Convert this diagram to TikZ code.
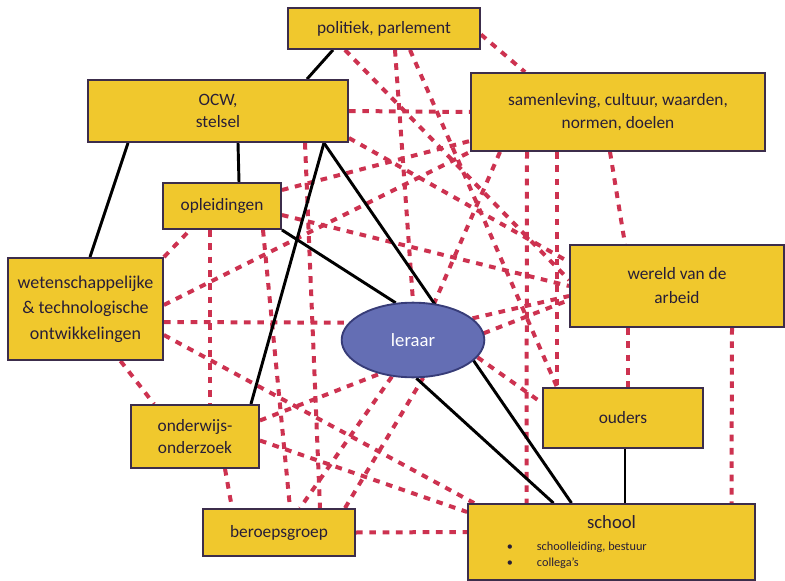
\documentclass[tikz,border=0pt]{standalone}
\usepackage{fontspec}
\setmainfont{Carlito}
\usetikzlibrary{calc,backgrounds,shapes.geometric}
\definecolor{boxfill}{RGB}{240,200,45}
\definecolor{boxline}{RGB}{60,45,75}
\definecolor{webred}{RGB}{205,50,80}
\definecolor{ovalfill}{RGB}{100,110,180}
\definecolor{ovalline}{RGB}{55,60,120}
\definecolor{inktxt}{RGB}{40,30,55}

\begin{document}
\begin{tikzpicture}[x=0.75pt,y=-0.75pt,
  box/.style={draw=boxline, fill=boxfill, line width=1.4pt, text=inktxt, align=center, inner sep=2pt, font=\fontsize{13}{17}\selectfont},
  link/.style={line width=2.2pt, black},
  web/.style={webred, line width=3pt, dash pattern=on 5pt off 5pt}]
\useasboundingbox (0,0) rectangle (785,581);
% boxes
\node[box, minimum width=144pt, minimum height=30.75pt] (pol) at (384,28.5) {politiek, parlement};
\node[box, minimum width=195pt, minimum height=46.5pt] (ocw) at (218,111) {OCW,\\stelsel};
\node[box, minimum width=220.5pt, minimum height=58.5pt] (sam) at (618,112) {samenleving, cultuur, waarden,\\normen, doelen};
\node[box, minimum width=88.5pt, minimum height=34.5pt] (opl) at (222,206) {opleidingen};
\node[box, minimum width=116.25pt, minimum height=76.5pt, font=\fontsize{13.5}{19}\selectfont] (wet) at (85.5,309) {wetenschappelijke\\\& technologische\\ontwikkelingen};
\node[box, minimum width=160.5pt, minimum height=61.5pt, font=\fontsize{13}{18}\selectfont] (wer) at (677,286) {wereld van de\\arbeid};
\node[draw=ovalline, fill=ovalfill, ellipse, line width=1.4pt, minimum width=107pt, minimum height=56pt, text=white, font=\fontsize{14}{17}\selectfont] (ler) at (413,340) {leraar};
\node[box, minimum width=96pt, minimum height=47.25pt] (ond) at (195,436.5) {onderwijs-\\onderzoek};
\node[box, minimum width=120pt, minimum height=45pt] (oud) at (623,418) {ouders};
\node[box, minimum width=114pt, minimum height=35.25pt] (ber) at (279,532.5) {beroepsgroep};
\node[box, minimum width=215.25pt, minimum height=57pt, font=\fontsize{9.2}{12.5}\selectfont] (sch) at (611.5,542) {{\fontsize{14}{17}\selectfont school}\\[4pt]
  \makebox[157pt][l]{\textbullet\hspace{18pt}schoolleiding, bestuur}\\
  \makebox[157pt][l]{\textbullet\hspace{18pt}collega's}};

\begin{scope}[on background layer]
% red web
\draw[web] ($(pol.east)+(0,6)$) -- ($(sam.north)+(-93,0)$);
\draw[web] ($(pol.south)+(-39,0)$) -- ($(wer.west)+(0,-6)$);
\draw[web] ($(pol.south)+(11,0)$) -- (ler.north);
\draw[web] ($(pol.south)+(26,0)$) -- ($(oud.north)+(-66,0)$);
\draw[web] (ocw.east) -- (sam.west);
\draw[web] ($(ocw.east)+(0,27)$) -- ($(wer.west)+(0,-24)$);
\draw[web] ($(ocw.south)+(87,0)$) -- ($(ber.north)+(41,0)$);
\draw[web] ($(opl.east)+(0,-16)$) -- ($(sam.south west)+(0,-11)$);
\draw[web] ($(opl.east)+(0,9)$) -- (wer.west);
\draw[web] ($(opl.south)+(-12,0)$) -- ($(ond.north)+(15,0)$);
\draw[web] ($(opl.south)+(41,0)$) -- ($(ber.north)+(11,0)$);
\draw[web] (wet.north east) -- ($(opl.south)+(-32,0)$);
\draw[web] ($(wet.east)+(0,-4)$) -- (sam.south west);
\draw[web] ($(wet.east)+(0,13)$) -- (ler.165);
\draw[web] ($(wet.east)+(0,26)$) -- ($(sch.north west)+(7,0)$);
\draw[web] ($(wet.south)+(35,0)$) -- ($(ond.north west)+(24,0)$);
\draw[web] ($(ond.east)+(0,-16)$) -- ($(wer.west)+(0,14)$);
\draw[web] ($(ond.east)+(0,4)$) -- ($(sch.west)+(0,-30)$);
\draw[web] ($(ond.south)+(30,0)$) -- ($(ber.north)+(-47,0)$);
\draw[web] (ber.east) -- ($(sch.west)+(0,-10)$);
\draw[web] ($(ber.north)+(66,0)$) -- (ler.-75);
\draw[web] (ler.-120) -- ($(ber.north)+(21,0)$);
\draw[web] ($(sam.south)+(-91,0)$) -- ($(sch.north)+(-85,0)$);
\draw[web] ($(sam.south)+(-61,0)$) -- ($(oud.north)+(-66,0)$);
\draw[web] ($(sam.south)+(-8,0)$) -- ($(wer.north)+(-52,0)$);
\draw[web] ($(sam.south)+(-118,0)$) -- (ler.60);
\draw[web] ($(wer.south)+(-49,0)$) -- ($(oud.north)+(5,0)$);
\draw[web] ($(wer.south)+(55,0)$) -- ($(sch.north)+(120,0)$);
\draw[web] (ler.-15) -- ($(oud.west)+(0,-15)$);
\draw[web] (ler.20) -- ($(wer.west)+(0,10)$);
% black links
\draw[link] ($(pol.south)+(-51,0)$) -- ($(ocw.north)+(89,0)$);
\draw[link] ($(ocw.south)+(-90,0)$) -- ($(wet.north)+(4.5,0)$);
\draw[link] ($(ocw.south)+(20,0)$) -- ($(opl.north)+(17,0)$);
\draw[link] (opl.south east) -- (ler.115);
\draw[link] ($(ocw.south east)+(-25,0)$) -- ($(ond.north east)+(-9,0)$);
\draw[link] ($(ocw.south east)+(-25,0)$) -- ($(sch.north)+(-40,0)$);
\draw[link] (ler.-85) -- ($(sch.north)+(-58,0)$);
\draw[link] ($(oud.south)+(2,0)$) -- ($(sch.north)+(13.5,0)$);
\end{scope}
\end{tikzpicture}
\end{document}
